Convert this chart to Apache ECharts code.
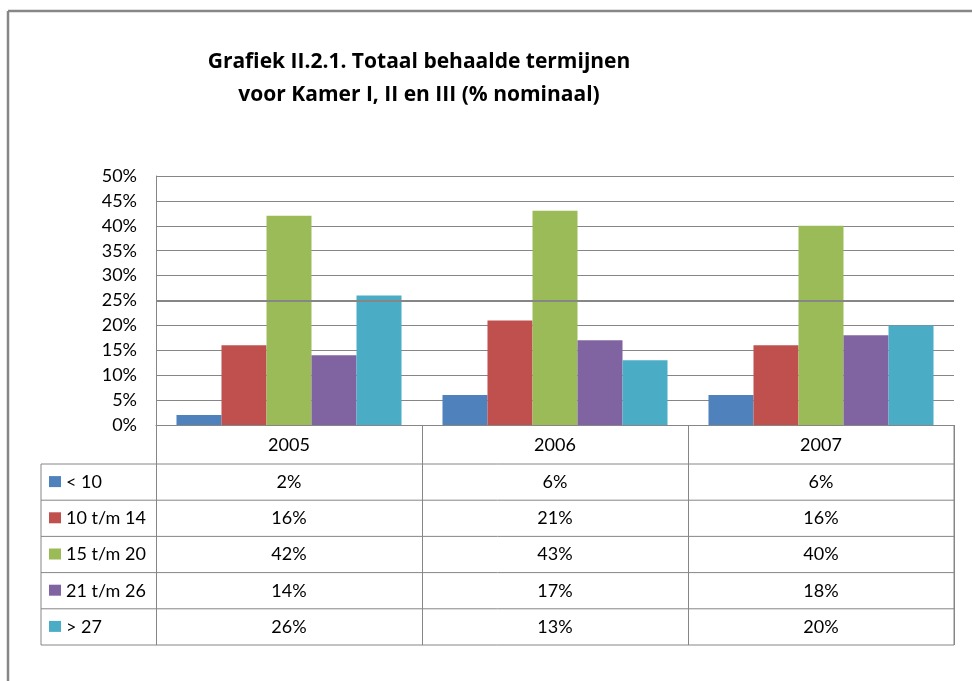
<!DOCTYPE html>
<html>
<head>
<meta charset="utf-8">
<script src="https://cdn.jsdelivr.net/npm/echarts@6/dist/echarts.min.js"></script>
<style>
  html, body { margin: 0; padding: 0; background: #fff; }
  #chart { width: 972px; height: 681px; }
</style>
</head>
<body>
<div id="chart"></div>
<script>
  // data
  var years = ['2005', '2006', '2007'];
  var groups = ['< 10', '10 t/m 14', '15 t/m 20', '21 t/m 26', '> 27'];
  var lt10 = [2, 6, 6];
  var from10to14 = [16, 21, 16];
  var from15to20 = [42, 43, 40];
  var from21to26 = [14, 17, 18];
  var gt27 = [26, 13, 20];
  var values = [lt10, from10to14, from15to20, from21to26, gt27];
  var colors = ['#4F81BD', '#C0504D', '#9BBB59', '#8064A2', '#4BACC6'];

  var gridCol = '#868686';
  var fontFam = 'Lato, "Open Sans", sans-serif';

  var myChart = echarts.init(document.getElementById('chart'));

  var series = groups.map(function (name, i) {
    var s = {
      name: name,
      type: 'bar',
      barGap: 0,
      barCategoryGap: '15.4%',
      itemStyle: { color: colors[i] },
      data: values[i]
    };
    if (i === 0) {
      // the 25% line is drawn a bit heavier in the original
      s.markLine = {
        silent: true,
        symbol: 'none',
        label: { show: false },
        lineStyle: { color: gridCol, width: 2, type: 'solid' },
        data: [{ yAxis: 25 }]
      };
    }
    return s;
  });

  var option = {
    backgroundColor: '#fff',
    animation: false,
    title: {
      text: 'Grafiek II.2.1. Totaal behaalde termijnen\nvoor Kamer I, II en III (% nominaal)',
      left: 419,
      textAlign: 'center',
      top: 46,
      padding: 0,
      textStyle: {
        fontFamily: '"Open Sans", sans-serif',
        fontWeight: 'bold',
        fontSize: 21,
        lineHeight: 33,
        color: '#000'
      }
    },
    grid: { left: 156, right: 18, top: 176, bottom: 256 },
    xAxis: {
      type: 'category',
      data: years,
      axisLine: { show: true, lineStyle: { color: gridCol, width: 1 } },
      axisTick: { show: true, length: 220, alignWithLabel: false, lineStyle: { color: gridCol } },
      axisLabel: { margin: 11, fontSize: 18, fontFamily: fontFam, color: '#000' }
    },
    yAxis: {
      type: 'value',
      min: 0,
      max: 50,
      interval: 5,
      axisLine: { show: true, lineStyle: { color: gridCol } },
      axisTick: { show: false },
      splitLine: { lineStyle: { color: gridCol, width: 1 } },
      axisLabel: {
        formatter: '{value}%',
        margin: 19,
        fontSize: 18,
        fontFamily: fontFam,
        color: '#000'
      }
    },
    series: series
  };
  myChart.setOption(option);

  // data table under the axis
  var buildTable = function () {
    var els = [];
    var line = function (x1, y1, x2, y2, w, c) {
      els.push({
        type: 'line',
        silent: true,
        shape: { x1: x1, y1: y1, x2: x2, y2: y2 },
        style: { stroke: c || gridCol, lineWidth: w || 1 }
      });
    };
    var axisY = myChart.convertToPixel({ yAxisIndex: 0 }, 0);
    var right = 972 - 18;
    var tableLeft = 41;
    var rowTop = axisY + 39;
    var rowH = 36.2;

    for (var r = 0; r <= groups.length; r++) {
      line(tableLeft, rowTop + r * rowH, right, rowTop + r * rowH);
    }
    line(tableLeft, rowTop, tableLeft, rowTop + groups.length * rowH);
    line(right, axisY, right, rowTop + groups.length * rowH);

    groups.forEach(function (name, i) {
      var cy = rowTop + i * rowH + rowH / 2;
      els.push({
        type: 'rect',
        silent: true,
        shape: { x: 49, y: cy - 6, width: 12, height: 11 },
        style: { fill: colors[i] }
      });
      els.push({
        type: 'text',
        silent: true,
        style: {
          text: name, x: 66, y: cy, align: 'left', verticalAlign: 'middle',
          font: '18px ' + fontFam, fill: '#000'
        }
      });
      years.forEach(function (yr, j) {
        var cx = myChart.convertToPixel({ xAxisIndex: 0 }, yr);
        els.push({
          type: 'text',
          silent: true,
          style: {
            text: values[i][j] + '%', x: cx, y: cy, align: 'center', verticalAlign: 'middle',
            font: '18px ' + fontFam, fill: '#000'
          }
        });
      });
    });

    // outer frame of the chart area
    line(8, 11, 972, 11, 2.5, '#878787');
    line(8, 11, 8, 681, 2.5, '#878787');

    myChart.setOption({ graphic: els });
  };
  buildTable();
</script>
</body>
</html>
